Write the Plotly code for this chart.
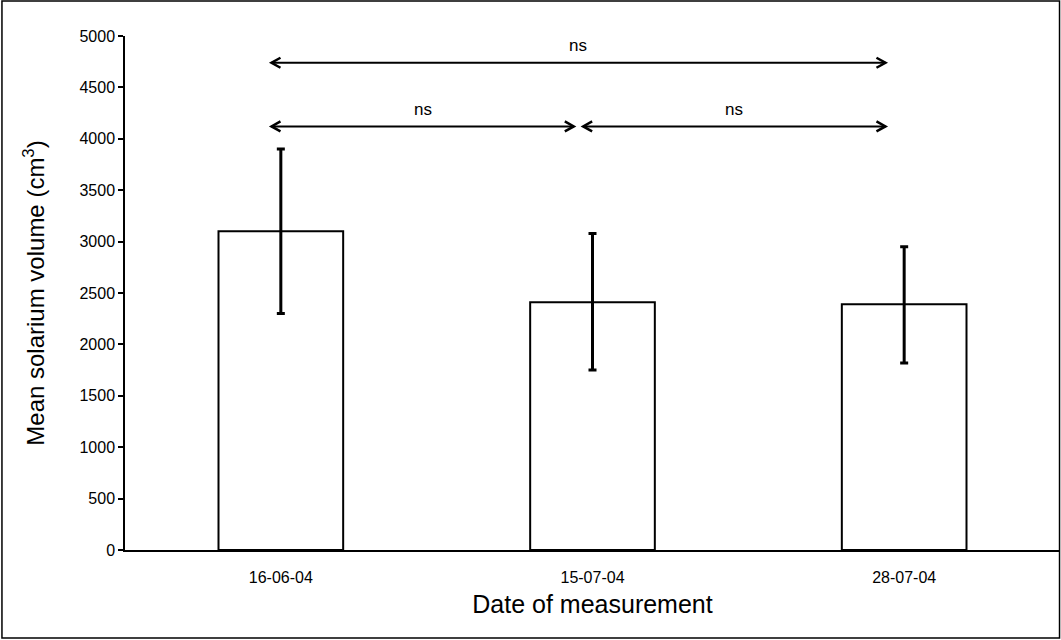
import plotly.graph_objects as go

# ---- data ----
categories = ["16-06-04", "15-07-04", "28-07-04"]
means = [3100, 2410, 2390]
err_upper = [3900, 3080, 2950]
err_lower = [2300, 1750, 1820]
y_ticks = [0, 500, 1000, 1500, 2000, 2500, 3000, 3500, 4000, 4500, 5000]

# significance comparisons: (start index, end index, y level, label)
comp_start = [0, 0, 1]
comp_end = [2, 1, 2]
comp_y = [4740, 4120, 4120]
comp_label = ["ns", "ns", "ns"]

err_plus = [u - m for u, m in zip(err_upper, means)]
err_minus = [m - l for l, m in zip(err_lower, means)]

xpos = list(range(len(categories)))
FONT = "Liberation Sans, Arial, sans-serif"

fig = go.Figure()
fig.add_trace(go.Bar(
    x=xpos, y=means, width=0.4,
    marker=dict(color="white", line=dict(color="black", width=2)),
    error_y=dict(type="data", symmetric=False, array=err_plus, arrayminus=err_minus,
                 color="black", thickness=3, width=4),
    showlegend=False,
))

# arrows
start_off = -0.03
end_off = -0.06
shapes = []
annotations = []
for s, e, yv, lab in zip(comp_start, comp_end, comp_y, comp_label):
    x0 = s + start_off
    x1 = e + end_off
    shapes.append(dict(type="line", xref="x", yref="y", x0=x0, x1=x1, y0=yv, y1=yv,
                       line=dict(color="black", width=2)))
    shapes.append(dict(type="path", xref="x", yref="y", xsizemode="pixel", ysizemode="pixel",
                       xanchor=x0, yanchor=yv, path="M 9,5 L 0,0 L 9,-5",
                       line=dict(color="black", width=2.5)))
    shapes.append(dict(type="path", xref="x", yref="y", xsizemode="pixel", ysizemode="pixel",
                       xanchor=x1, yanchor=yv, path="M -9,5 L 0,0 L -9,-5",
                       line=dict(color="black", width=2.5)))
    annotations.append(dict(x=(x0 + x1) / 2, y=yv, xref="x", yref="y", text=lab,
                            showarrow=False, yshift=17,
                            font=dict(family=FONT, size=17, color="black")))

# outer frame
shapes.append(dict(type="rect", xref="paper", yref="paper",
                   x0=-0.1316, x1=0.9995, y0=-0.171, y1=1.068,
                   line=dict(color="black", width=1.5), fillcolor="rgba(0,0,0,0)", layer="below"))

fig.update_layout(
    width=1061, height=640,
    margin=dict(l=125, r=1, t=36, b=90),
    paper_bgcolor="white", plot_bgcolor="white",
    font=dict(family=FONT, color="black"),
    shapes=shapes,
    annotations=annotations,
    xaxis=dict(
        range=[-0.5, 2.5], tickmode="array", tickvals=xpos, ticktext=categories,
        showgrid=False, zeroline=False, showline=True, linecolor="black", linewidth=2,
        ticks="", ticklabelstandoff=12,
        tickfont=dict(size=16, color="black"),
        title=dict(text="Date of measurement", font=dict(size=25, color="black"), standoff=10),
    ),
    yaxis=dict(
        range=[0, 5000], tickmode="array", tickvals=y_ticks,
        showgrid=False, zeroline=False, showline=True, linecolor="black", linewidth=1.5,
        ticks="outside", ticklen=5, tickwidth=1.5, tickcolor="black",
        tickfont=dict(size=16, color="black"),
        title=dict(text="Mean solarium volume (cm<sup>3</sup>)", font=dict(size=24, color="black"), standoff=28),
    ),
)

fig.write_html("out.html")
